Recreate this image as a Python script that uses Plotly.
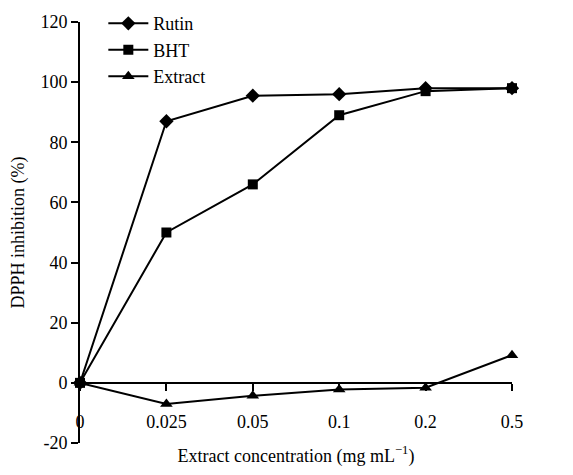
import plotly.graph_objects as go

categories = ["0", "0.025", "0.05", "0.1", "0.2", "0.5"]
rutin = [0, 87, 95.5, 96, 98, 98]
bht = [0, 50, 66, 89, 97, 98]
extract = [0, -7, -4.3, -2.2, -1.6, 9.2]
y_tick_vals = [-20, 0, 20, 40, 60, 80, 100, 120]
y_tick_text = ["-20", "0", "20", "40", "60", "80", "100", "120"]

y_min, y_max = -20, 120
font = dict(family="Liberation Serif", size=18, color="black")

fig = go.Figure()
for name, vals, sym, sz in [("Rutin", rutin, "diamond", 11),
                             ("BHT", bht, "square", 10),
                             ("Extract", extract, "triangle-up", 11)]:
    fig.add_trace(go.Scatter(x=categories, y=vals, name=name, mode="lines+markers",
                             line=dict(color="black", width=2),
                             marker=dict(symbol=sym, size=sz, color="black"),
                             cliponaxis=False))

fig.update_layout(
    width=557, height=459,
    margin=dict(l=72, r=53, t=14, b=24, autoexpand=False),
    paper_bgcolor="white", plot_bgcolor="white",
    font=font,
    showlegend=True,
    legend=dict(x=0.054, y=1.04, xanchor="left", yanchor="top",
                bgcolor="rgba(0,0,0,0)", font=dict(family="Liberation Serif", size=18, color="black"),
                tracegroupgap=0, itemwidth=40),
    xaxis=dict(type="category", range=[0, 5], anchor="free",
               position=(0 - y_min) / (y_max - y_min),
               showline=True, linecolor="black", linewidth=2,
               ticks="outside", ticklen=7, tickwidth=2, tickcolor="black",
               ticklabelstandoff=16, showgrid=False, zeroline=False,
               title=dict(text="Extract concentration (mg mL<sup>−1</sup>)",
                          font=font, standoff=23)),
    yaxis=dict(range=[y_min, y_max], tickvals=y_tick_vals, ticktext=y_tick_text,
               showline=True, linecolor="black",
               linewidth=2, ticks="outside", ticklen=7, tickwidth=2,
               tickcolor="black", showgrid=False, zeroline=False,
               title=dict(text="DPPH inhibition (%)", font=font, standoff=20)),
)

fig.write_html("out.html")
